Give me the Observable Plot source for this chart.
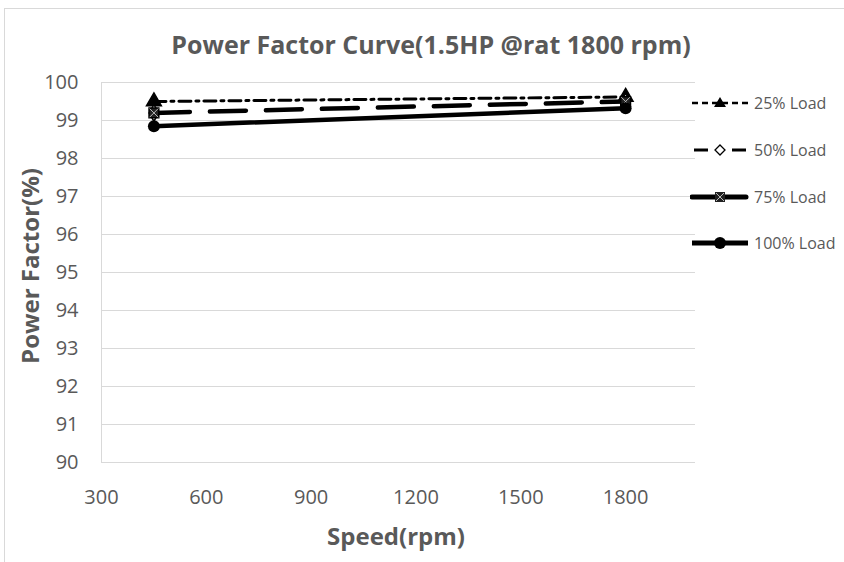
<!DOCTYPE html>
<html><head><meta charset="utf-8">
<script src="https://cdn.jsdelivr.net/npm/d3@7"></script>
<script src="https://cdn.jsdelivr.net/npm/@observablehq/plot@0.6"></script>
<style>
body{margin:0;background:#fff;overflow:hidden}
#wrap{position:relative;width:844px;height:562px;overflow:hidden;font-family:"Open Sans",sans-serif;color:#595959}
#frame{position:absolute;left:4px;top:8px;width:900px;height:700px;border:1px solid #d9d9d9;box-sizing:border-box}
#chart{position:absolute;left:0;top:0}
.t{position:absolute;white-space:nowrap;font-weight:bold}
#title{left:431px;top:44px;transform:translate(-50%,-50%);font-size:25px}
#xtitle{left:396px;top:535px;transform:translate(-50%,-50%);font-size:24px}
#ytitle{left:29px;top:266px;transform:translate(-50%,-50%) rotate(-90deg);font-size:24px}
#legend{position:absolute;left:690px;top:0}
.li{position:absolute;left:0;height:20px;display:flex;align-items:center;font-size:16px;color:#595959;white-space:nowrap}
.li svg{margin-right:4px}
</style></head>
<body>
<div id="wrap">
<div id="frame"></div>
<div id="chart"></div>
<div class="t" id="title">Power Factor Curve(1.5HP @rat 1800 rpm)</div>
<div class="t" id="xtitle">Speed(rpm)</div>
<div class="t" id="ytitle">Power Factor(%)</div>
<div id="legend"></div>
</div>
<script>
const speeds = [450, 1800];
const seriesNames = ["25% Load", "50% Load", "75% Load", "100% Load"];
const pf25 = [99.5, 99.62];
const pf50 = [99.2, 99.5];
const pf75 = [99.2, 99.5];
const pf100 = [98.85, 99.32];
const xTicks = [300, 600, 900, 1200, 1500, 1800];
const yTicks = [90, 91, 92, 93, 94, 95, 96, 97, 98, 99, 100];

const rows = (name, vals) => speeds.map((s, i) => ({series: name, speed: s, pf: vals[i]}));
const r25 = rows(seriesNames[0], pf25);
const r50 = rows(seriesNames[1], pf50);
const r75 = rows(seriesNames[2], pf75);
const r100 = rows(seriesNames[3], pf100);

const plot = Plot.plot({
  width: 844, height: 562,
  marginTop: 82, marginBottom: 100, marginLeft: 101, marginRight: 149,
  style: {color: "#595959", fontFamily: "'Open Sans', sans-serif", background: "transparent", overflow: "visible"},
  x: {domain: [300, 2000]},
  y: {domain: [90, 100]},
  marks: [
    Plot.gridY(yTicks, {stroke: "#d9d9d9", strokeOpacity: 1, strokeWidth: 1}),
    Plot.ruleX([300], {stroke: "#d9d9d9", strokeWidth: 1}),
    Plot.axisX(xTicks, {tickSize: 0, tickPadding: 27, fontSize: 20, label: null, tickFormat: d => String(d)}),
    Plot.axisY(yTicks, {tickSize: 0, tickPadding: 23, fontSize: 20, label: null, tickFormat: d => String(d)}),
    Plot.line(r25, {x: "speed", y: "pf", stroke: "black", strokeWidth: 3, strokeDasharray: "12,5,3,5"}),
    Plot.dot(r25, {x: "speed", y: "pf", symbol: "triangle", r: 5.5, fill: "black", stroke: "black"}),
    Plot.line(r50, {x: "speed", y: "pf", stroke: "black", strokeWidth: 4.5, strokeDasharray: "36,20", strokeLinecap: "round"}),
    Plot.dot(r50, {x: "speed", y: "pf", symbol: "diamond", r: 5, fill: "white", stroke: "black", strokeWidth: 1.5}),
    Plot.dot(r75, {x: "speed", y: "pf", symbol: "square", r: 5.5, fill: "#222", stroke: "black"}),
    Plot.dot(r75, {x: "speed", y: "pf", symbol: "times", r: 4, stroke: "#bbb", strokeWidth: 1}),
    Plot.line(r100, {x: "speed", y: "pf", stroke: "black", strokeWidth: 4.5}),
    Plot.dot(r100, {x: "speed", y: "pf", symbol: "circle", r: 6, fill: "black"})
  ]
});
document.getElementById("chart").appendChild(plot);

// legend
const legendY = [103, 150, 197, 243];
const legend = document.getElementById("legend");
const samples = [
  `<line x1="2" y1="10" x2="58" y2="10" stroke="black" stroke-width="2.5" stroke-dasharray="6,4"/><path d="M30,4 L36,14 L24,14 Z" fill="black"/>`,
  `<line x1="4" y1="10" x2="18" y2="10" stroke="black" stroke-width="3"/><line x1="42" y1="10" x2="56" y2="10" stroke="black" stroke-width="3"/><path d="M30,5 L35,10 L30,15 L25,10 Z" fill="white" stroke="black" stroke-width="1.3"/>`,
  `<line x1="2" y1="10" x2="56" y2="10" stroke="black" stroke-width="5" stroke-linecap="round"/><rect x="25" y="5" width="10" height="10" fill="#222"/><path d="M26,6 L34,14 M34,6 L26,14" stroke="#bbb" stroke-width="1"/>`,
  `<line x1="2" y1="10" x2="58" y2="10" stroke="black" stroke-width="5"/><circle cx="30" cy="10" r="6" fill="black"/>`
];
seriesNames.forEach((n, i) => {
  const d = document.createElement("div");
  d.className = "li";
  d.style.top = (legendY[i] - 10) + "px";
  d.innerHTML = `<svg width="60" height="20">${samples[i]}</svg><span>${n}</span>`;
  legend.appendChild(d);
});
</script>
</body></html>
